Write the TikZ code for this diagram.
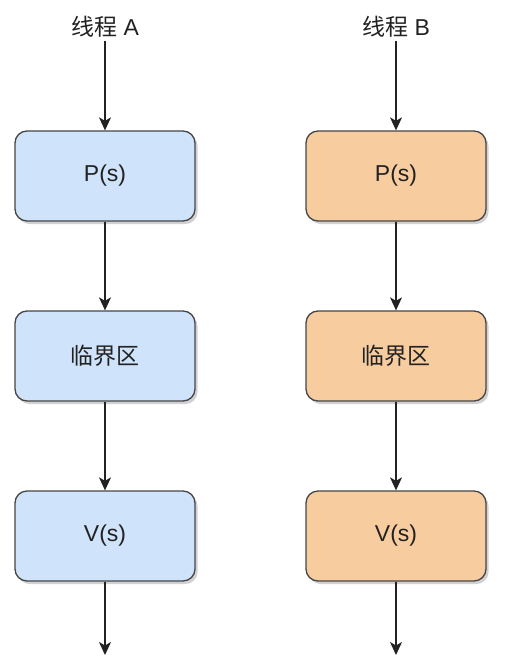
\documentclass[tikz,border=0pt]{standalone}
\usepackage{fontspec}
\setmainfont{Liberation Sans}
\newfontfamily\cjk{Noto Sans CJK SC}
\usetikzlibrary{arrows.meta,shadows}
\definecolor{boxblue}{RGB}{207,227,250}
\definecolor{boxorange}{RGB}{247,205,160}
\definecolor{edge}{RGB}{70,70,72}
\definecolor{ink}{RGB}{34,34,34}
\begin{document}
\begin{tikzpicture}[x=1pt,y=1pt,
  stepbox/.style={rectangle, rounded corners=12pt, draw=edge, line width=1.3pt,
    minimum width=180pt, minimum height=90pt, text=ink, font=\fontsize{23}{27}\selectfont,
    drop shadow={shadow xshift=2.5pt, shadow yshift=-3pt, fill=black, opacity=0.18}},
  blue/.style={stepbox, fill=boxblue},
  orange/.style={stepbox, fill=boxorange},
  title/.style={text=ink, font=\fontsize{23}{27}\selectfont, inner sep=0pt},
  flow/.style={draw=ink, line width=1.3pt, -{Stealth[length=13pt,width=12pt,inset=3.5pt]}}
]
\useasboundingbox (0,0) rectangle (514,-663);
\fill[white] (0,0) rectangle (514,-663);

\node[title] (tA) at (105,-27) {{\cjk 线程} A};
\node[title] (tB) at (396,-27) {{\cjk 线程} B};
\coordinate (sA) at (105,-41);
\coordinate (sB) at (396,-41);

\node[blue] (pA) at (105,-176) {P(s)};
\node[blue] (cA) at (105,-356) {\cjk 临界区};
\node[blue] (vA) at (105,-536) {V(s)};
\node[orange] (pB) at (396,-176) {P(s)};
\node[orange] (cB) at (396,-356) {\cjk 临界区};
\node[orange] (vB) at (396,-536) {V(s)};

\coordinate (eA) at (105,-655);
\coordinate (eB) at (396,-655);

\draw[flow] (sA) -- (pA);
\draw[flow] (pA) -- (cA);
\draw[flow] (cA) -- (vA);
\draw[flow] (vA) -- (eA);
\draw[flow] (sB) -- (pB);
\draw[flow] (pB) -- (cB);
\draw[flow] (cB) -- (vB);
\draw[flow] (vB) -- (eB);
\end{tikzpicture}
\end{document}
